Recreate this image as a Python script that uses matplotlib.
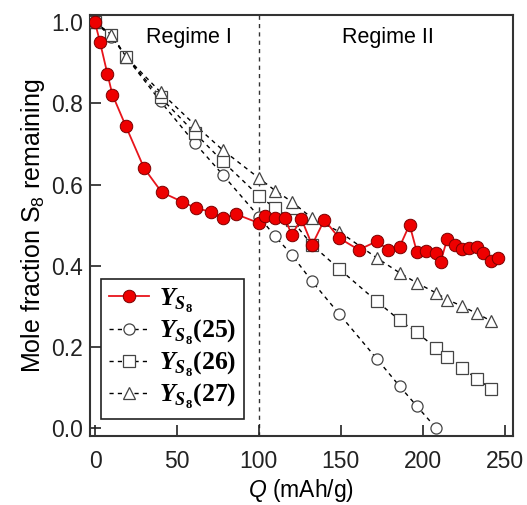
import matplotlib
matplotlib.use("Agg")
import matplotlib.pyplot as plt

plt.rcParams['font.family'] = ['Liberation Sans', 'DejaVu Sans']
plt.rcParams['mathtext.fontset'] = 'custom'
plt.rcParams['mathtext.rm'] = 'Liberation Sans'
plt.rcParams['mathtext.it'] = 'Liberation Sans:italic'
plt.rcParams['mathtext.bf'] = 'Liberation Serif:bold'
plt.rcParams['mathtext.bfit'] = 'Liberation Serif:bold:italic'

# measured Y_S8 (red)
q_meas = [0, 3, 7.5, 10.6, 18.7, 30, 40.7, 53, 61.4, 70.5, 78, 86, 100, 104, 110, 116,
          120, 126, 132.5, 140, 149, 161, 172, 179, 186, 192, 196.5, 202, 208, 211,
          215, 220, 224, 228.5, 233, 237, 242, 246]
y_meas = [1.0, 0.952, 0.874, 0.822, 0.745, 0.640, 0.581, 0.558, 0.542, 0.533, 0.517, 0.527,
          0.505, 0.523, 0.517, 0.517, 0.476, 0.515, 0.451, 0.513, 0.468, 0.439, 0.460, 0.439,
          0.447, 0.501, 0.433, 0.435, 0.431, 0.410, 0.466, 0.451, 0.441, 0.443, 0.445, 0.431,
          0.412, 0.419]

# model curves (25), (26), (27)
q25 = [0, 10, 19, 40, 61, 78, 100, 110, 120, 132.5, 149, 172, 186, 196.5, 208]
y25 = [1.0, 0.965, 0.915, 0.805, 0.702, 0.624, 0.521, 0.472, 0.427, 0.361, 0.281, 0.170,
       0.102, 0.053, 0.0]

q26 = [0, 10, 19, 40, 61, 78, 100, 110, 120, 132.5, 149, 172, 186, 196.5, 208, 215, 224,
       233, 242]
y26 = [1.0, 0.97, 0.915, 0.815, 0.727, 0.657, 0.572, 0.542, 0.513, 0.451, 0.392, 0.312,
       0.265, 0.235, 0.197, 0.175, 0.148, 0.121, 0.096]

q27 = [0, 10, 19, 40, 61, 78, 100, 110, 120, 132.5, 149, 172, 186, 196.5, 208, 215, 224,
       233, 242]
y27 = [1.0, 0.97, 0.915, 0.828, 0.747, 0.685, 0.616, 0.585, 0.558, 0.517, 0.484, 0.419,
       0.382, 0.357, 0.333, 0.316, 0.300, 0.282, 0.263]

sub = r'\mathbfit{Y}_{\mathbfit{S}_{\mathbf{8}}}'
labels = ['$' + sub + '$', '$' + sub + r'\mathbf{(25)}$',
          '$' + sub + r'\mathbf{(26)}$', '$' + sub + r'\mathbf{(27)}$']

fig = plt.figure(figsize=(5.27, 5.05), dpi=100)
ax = fig.add_axes([0.171, 0.137, 0.802, 0.833])

open_kw = dict(color='black', linestyle=(0, (3, 3)), linewidth=1.0, mfc='white',
               mec='#444444', mew=0.9, markersize=8)
ax.plot(q25, y25, marker='o', label=labels[1], zorder=3, **open_kw)
ax.plot(q26, y26, marker='s', label=labels[2], zorder=3, **open_kw)
ax.plot(q27, y27, marker='^', label=labels[3], zorder=3, **open_kw)
ax.plot(q_meas, y_meas, color='#e8141b', marker='o', markersize=9, mfc='#ee0000',
        mec='#7a0000', mew=0.7, linewidth=1.3, label=labels[0], zorder=4)

ax.axvline(100, color='#333333', linestyle=(0, (3, 3)), linewidth=1.0, zorder=1)

ax.set_xlim(-3, 255)
ax.set_ylim(-0.02, 1.018)
ax.set_xticks([0, 50, 100, 150, 200, 250])
ax.set_yticks([0.0, 0.2, 0.4, 0.6, 0.8, 1.0])
ax.set_yticklabels(['0.0', '0.2', '0.4', '0.6', '0.8', '1.0'])
ax.tick_params(direction='in', length=8, width=1.2, labelsize=16.5, pad=5,
               colors='#222222')
ax.tick_params(axis='x', pad=10)
for s in ax.spines.values():
    s.set_linewidth(1.5)
    s.set_color('#333333')

ax.set_xlabel('$Q$ (mAh/g)', fontsize=16.5, labelpad=3)
ax.set_ylabel('Mole fraction S$_8$ remaining', fontsize=18, labelpad=3)

ax.text(31, 0.962, 'Regime I', fontsize=15.5, va='center')
ax.text(150.5, 0.962, 'Regime II', fontsize=15.5, va='center')

handles, labs = ax.get_legend_handles_labels()
order = [3, 0, 1, 2]
leg = ax.legend([handles[i] for i in order], [labs[i] for i in order],
                loc='lower left', bbox_to_anchor=(0.026, 0.04), fontsize=18.5,
                frameon=True, fancybox=False, framealpha=1, edgecolor='#222222',
                handlelength=1.55, handletextpad=0.4, borderpad=0.3, labelspacing=0.12,
                borderaxespad=0)
leg.get_frame().set_linewidth(1.2)

fig.savefig('out.png', dpi=100)
